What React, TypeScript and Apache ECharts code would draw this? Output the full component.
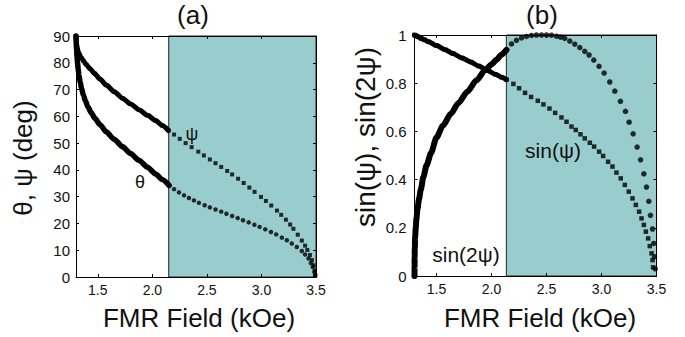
import React, { useEffect, useRef } from "react";
import * as echarts from "echarts";

// ---------- data ----------
// Panel (a): psi (squares) and theta (circles), degrees vs FMR field (kOe)
const hPsiA = [1.3, 1.302, 1.305, 1.31, 1.317, 1.326, 1.336, 1.35, 1.37, 1.395, 1.427, 1.47, 1.52, 1.578, 1.65, 1.729, 1.8, 1.88, 1.955, 2.03, 2.09, 2.148, 2.199, 2.251, 2.305, 2.36, 2.421, 2.472, 2.527, 2.579, 2.631, 2.686, 2.731, 2.786, 2.837, 2.889, 2.937, 2.996, 3.041, 3.09, 3.142, 3.181, 3.224, 3.263, 3.293, 3.333, 3.37, 3.4, 3.421, 3.445, 3.463, 3.478, 3.489, 3.495];
const psiA = [90, 88.2, 87.0, 85.8, 84.6, 83.6, 82.8, 81.8, 80.6, 79.3, 77.8, 76.0, 73.9, 71.7, 69.2, 66.7, 64.6, 62.4, 60.4, 58.4, 56.6, 54.7, 53.2, 51.6, 50.0, 48.5, 46.8, 45.4, 43.9, 42.5, 41.1, 39.6, 38.3, 36.7, 35.1, 33.4, 31.8, 29.9, 28.4, 26.7, 24.8, 23.2, 21.4, 19.6, 18.0, 15.8, 13.6, 11.7, 10.1, 8.2, 6.3, 4.4, 2.4, 0.6];

const hThetaA = [1.3, 1.302, 1.305, 1.309, 1.314, 1.32, 1.328, 1.338, 1.351, 1.367, 1.387, 1.41, 1.44, 1.475, 1.52, 1.578, 1.65, 1.729, 1.8, 1.88, 1.955, 2.03, 2.09, 2.153, 2.199, 2.244, 2.29, 2.335, 2.381, 2.427, 2.479, 2.527, 2.579, 2.631, 2.679, 2.731, 2.782, 2.831, 2.883, 2.935, 2.983, 3.035, 3.087, 3.135, 3.187, 3.233, 3.278, 3.324, 3.37, 3.4, 3.431, 3.452, 3.47, 3.485, 3.491];
const thetaA = [90, 87.5, 85.0, 82.5, 80.0, 77.6, 75.2, 72.8, 70.4, 68.0, 65.7, 63.5, 61.3, 59.2, 56.9, 54.2, 51.4, 48.6, 46.1, 43.5, 41.0, 38.5, 36.4, 34.2, 32.8, 31.6, 30.5, 29.5, 28.6, 27.7, 26.8, 26.0, 25.2, 24.4, 23.6, 22.8, 22.0, 21.2, 20.4, 19.5, 18.7, 17.8, 16.8, 15.9, 14.7, 13.7, 12.5, 11.2, 9.7, 8.4, 6.9, 5.2, 3.7, 1.9, 0.6];

// Panel (b): sin(psi) (squares) and sin(2psi) (circles)
const hSinPsiB = [1.3, 1.305, 1.312, 1.322, 1.336, 1.36, 1.39, 1.427, 1.5, 1.578, 1.65, 1.731, 1.81, 1.883, 1.96, 2.034, 2.09, 2.136, 2.199, 2.251, 2.305, 2.36, 2.421, 2.472, 2.527, 2.579, 2.636, 2.682, 2.727, 2.766, 2.809, 2.848, 2.894, 2.933, 2.978, 3.015, 3.06, 3.1, 3.136, 3.175, 3.212, 3.248, 3.282, 3.312, 3.342, 3.364, 3.385, 3.403, 3.424, 3.439, 3.455, 3.464, 3.469];
const sinPsiB = [1.0, 0.999, 0.997, 0.995, 0.992, 0.986, 0.98, 0.972, 0.956, 0.939, 0.923, 0.905, 0.888, 0.871, 0.854, 0.837, 0.825, 0.815, 0.797, 0.779, 0.76, 0.743, 0.727, 0.712, 0.695, 0.677, 0.658, 0.64, 0.62, 0.606, 0.588, 0.571, 0.553, 0.537, 0.516, 0.498, 0.474, 0.454, 0.429, 0.405, 0.378, 0.35, 0.322, 0.295, 0.267, 0.239, 0.212, 0.184, 0.156, 0.124, 0.094, 0.066, 0.036];

const hSin2PsiB = [1.3, 1.3005, 1.301, 1.303, 1.306, 1.311, 1.318, 1.328, 1.341, 1.358, 1.38, 1.41, 1.45, 1.5, 1.56, 1.63, 1.7, 1.78, 1.864, 1.94, 2.0, 2.045, 2.09, 2.136, 2.182, 2.227, 2.273, 2.318, 2.364, 2.409, 2.455, 2.5, 2.545, 2.591, 2.628, 2.666, 2.712, 2.757, 2.803, 2.848, 2.887, 2.93, 2.978, 3.024, 3.075, 3.121, 3.172, 3.218, 3.251, 3.288, 3.324, 3.355, 3.385, 3.409, 3.43, 3.445, 3.464, 3.475, 3.482, 3.488];
const sin2PsiB = [0.0, 0.04, 0.08, 0.12, 0.16, 0.2, 0.24, 0.28, 0.32, 0.36, 0.41, 0.46, 0.51, 0.575, 0.625, 0.673, 0.718, 0.765, 0.812, 0.853, 0.878, 0.897, 0.918, 0.938, 0.963, 0.978, 0.988, 0.994, 0.998, 1.0, 1.0, 1.0, 0.999, 0.995, 0.991, 0.986, 0.975, 0.962, 0.948, 0.932, 0.917, 0.896, 0.87, 0.842, 0.805, 0.767, 0.725, 0.683, 0.638, 0.59, 0.535, 0.482, 0.424, 0.369, 0.31, 0.252, 0.195, 0.135, 0.08, 0.03];

const xTicks = [1.5, 2.0, 2.5, 3.0, 3.5];
const xMin = 1.3;
const xMax = 3.5;
const shadeStartA = 2.15;
const shadeStartB = 2.135;

const FONT = "'Liberation Sans', Arial, Helvetica, sans-serif";
const INK = "#111";
const TEAL = "#99cccc";

function pairs(xs: number[], ys: number[]) {
  return xs.map((x, i) => [x, ys[i]]);
}
function upTo(xs: number[], ys: number[], lim: number) {
  return pairs(xs, ys).filter((p) => p[0] <= lim + 1e-9);
}

export default function App() {
  const ref = useRef<HTMLDivElement>(null);

  useEffect(() => {
    if (!ref.current) return;
    const chart = echarts.init(ref.current, undefined, { renderer: "svg" });

    const xAxisBase = (gridIndex: number, position: "bottom" | "top") => ({
      gridIndex,
      type: "value",
      min: xMin,
      max: xMax,
      position,
      z: 10,
      axisLine: { show: true, onZero: false, lineStyle: { color: "#000", width: 1 } },
      axisTick: { show: true, inside: true, length: 3, customValues: xTicks, lineStyle: { color: "#000" } },
      axisLabel: {
        show: position === "bottom",
        customValues: xTicks,
        formatter: (v: number) => v.toFixed(1),
        margin: 6,
        fontSize: 14,
        color: INK,
        fontFamily: FONT,
      },
      splitLine: { show: false },
    });

    const yAxisBase = (
      gridIndex: number,
      position: "left" | "right",
      max: number,
      interval: number,
      fmt: (v: number) => string,
      margin: number
    ) => ({
      gridIndex,
      type: "value",
      min: 0,
      max,
      interval,
      position,
      z: 10,
      axisLine: { show: true, onZero: false, lineStyle: { color: "#000", width: 1 } },
      axisTick: { show: true, inside: true, length: 3, lineStyle: { color: "#000" } },
      axisLabel: {
        show: position === "left",
        formatter: fmt,
        margin,
        fontSize: 15,
        color: INK,
        fontFamily: FONT,
      },
      splitLine: { show: false },
    });

    const fmtB = (v: number) => {
      if (Math.abs(v) < 1e-9) return "0";
      if (Math.abs(v - 1) < 1e-9) return "1";
      return v.toFixed(1);
    };

    const text = (t: string, x: number, y: number, size: number, rot = 0) => ({
      type: "text",
      x,
      y,
      rotation: rot,
      style: {
        text: t,
        font: `${size}px ${FONT}`,
        fill: INK,
        align: "center",
        verticalAlign: "middle",
      },
      z: 20,
    });

    const band = (xi: number, yi: number, data: number[][], width: number) => ({
      type: "line",
      xAxisIndex: xi,
      yAxisIndex: yi,
      data,
      showSymbol: false,
      symbol: "none",
      smooth: 0.25,
      smoothMonotone: "x",
      lineStyle: { color: "#000", width, cap: "round", join: "round" },
      z: 3,
    });

    const dots = (xi: number, yi: number, data: number[][], symbol: string, size: number) => ({
      type: "scatter",
      xAxisIndex: xi,
      yAxisIndex: yi,
      data,
      symbol,
      symbolSize: size,
      itemStyle: { color: "#000" },
      z: 4,
    });

    const option: any = {
      animation: false,
      backgroundColor: "#fff",
      grid: [
        { left: 76, top: 36, width: 240, height: 241 },
        { left: 414.5, top: 35, width: 242, height: 241 },
      ],
      xAxis: [
        xAxisBase(0, "bottom"),
        xAxisBase(0, "top"),
        xAxisBase(1, "bottom"),
        xAxisBase(1, "top"),
      ],
      yAxis: [
        yAxisBase(0, "left", 90, 10, (v) => String(v), 6),
        yAxisBase(0, "right", 90, 10, (v) => String(v), 6),
        yAxisBase(1, "left", 1, 0.2, fmtB, 8),
        yAxisBase(1, "right", 1, 0.2, fmtB, 8),
      ],
      series: [
        {
          type: "line",
          xAxisIndex: 0,
          yAxisIndex: 0,
          data: [],
          z: 1,
          markArea: {
            silent: true,
            itemStyle: { color: TEAL, borderColor: "#222", borderWidth: 1 },
            data: [[{ xAxis: shadeStartA, yAxis: 0 }, { xAxis: xMax, yAxis: 90 }]],
          },
        },
        {
          type: "line",
          xAxisIndex: 2,
          yAxisIndex: 2,
          data: [],
          z: 1,
          markArea: {
            silent: true,
            itemStyle: { color: TEAL, borderColor: "#222", borderWidth: 1 },
            data: [[{ xAxis: shadeStartB, yAxis: 0 }, { xAxis: xMax, yAxis: 1 }]],
          },
        },
        band(0, 0, upTo(hPsiA, psiA, shadeStartA), 5),
        dots(0, 0, pairs(hPsiA, psiA), "rect", 4),
        band(0, 0, upTo(hThetaA, thetaA, shadeStartA + 0.01), 5.5),
        dots(0, 0, pairs(hThetaA, thetaA), "circle", 4.5),
        band(2, 2, upTo(hSinPsiB, sinPsiB, shadeStartB + 0.01), 5),
        dots(2, 2, pairs(hSinPsiB, sinPsiB), "rect", 4.5),
        band(2, 2, upTo(hSin2PsiB, sin2PsiB, shadeStartB + 0.01), 6),
        dots(2, 2, pairs(hSin2PsiB, sin2PsiB), "circle", 5.5),
      ],
      graphic: [
        text("(a)", 193, 15, 26),
        text("(b)", 542, 15, 26),
        text("FMR Field (kOe)", 199, 318, 26),
        text("FMR Field (kOe)", 540, 318, 26),
        text("θ, ψ (deg)", 23, 158, 26, Math.PI / 2),
        text("sin(ψ), sin(2ψ)", 365, 137, 28, Math.PI / 2),
        text("ψ", 192, 134, 18),
        text("θ", 140, 182, 18),
        text("sin(ψ)", 553, 150, 21),
        text("sin(2ψ)", 466, 254, 21),
      ],
    };

    chart.setOption(option);
    return () => chart.dispose();
  }, []);

  return (
    <div
      ref={ref}
      style={{ position: "fixed", left: 0, top: 0, width: 685, height: 337, background: "#fff" }}
    />
  );
}
